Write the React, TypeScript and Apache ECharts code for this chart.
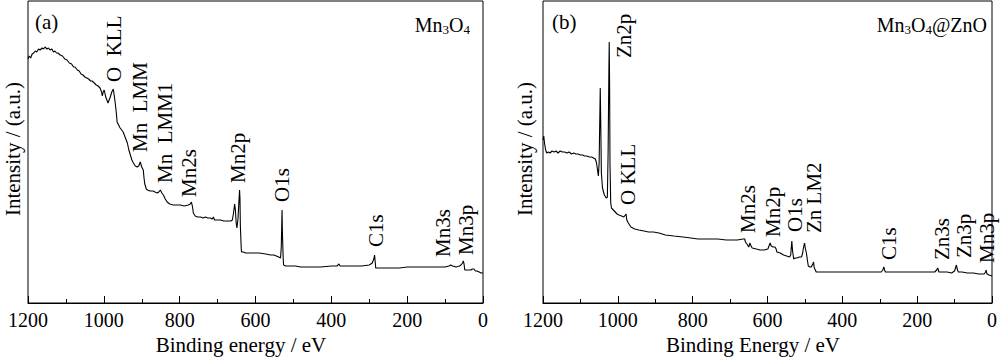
import React, { useEffect, useRef } from "react";
import * as echarts from "echarts";

// Panel (a): Mn3O4 survey spectrum (binding energy in eV, intensity in a.u.)
const energyA = [
  1200, 1197, 1193, 1189, 1185, 1181, 1177, 1172, 1168, 1163, 1159, 1155, 1150, 1146, 1142, 1137,
  1133, 1129, 1125, 1121, 1115, 1109, 1103, 1097, 1091, 1085, 1080, 1076, 1070, 1065, 1060, 1055,
  1050, 1045, 1040, 1035, 1031, 1025, 1020, 1015, 1010, 1006, 1004, 1001, 999, 995, 989, 986,
  983, 979, 975, 972, 970, 967, 965, 961, 957, 953, 949, 944, 938, 934, 930, 926,
  922, 917, 912, 908, 904, 900, 896, 894, 892, 888, 885, 878, 870, 865, 859, 855,
  851, 847, 843, 838, 833, 826, 817, 808, 798, 788, 777, 772, 769, 766, 764, 759,
  753, 745, 738, 732, 726, 719, 714, 711, 708, 700, 692, 684, 676, 671, 665, 661,
  658, 655, 653, 651, 649, 646, 644, 642, 641, 640, 638, 637, 632, 626, 615, 605,
  590, 573, 560, 552, 545, 539, 534, 532, 530, 529, 527, 526, 520, 507, 495, 481,
  460, 440, 428, 400, 385, 380, 377, 370, 362, 340, 320, 300, 292, 288, 286, 284,
  283, 275, 260, 243, 220, 200, 180, 164, 140, 120, 100, 90, 85, 80, 71, 62,
  58, 54, 52, 50, 48, 45, 40, 32, 28, 24, 20, 16, 10, 5, 0,
];
const intensityA = [
  244, 247, 245, 249, 250, 252, 251, 254, 253, 255, 254, 256, 254, 255, 253, 254,
  251, 252, 250, 250, 248, 247, 244, 243, 240, 239, 236, 236, 233, 232, 229, 228,
  226, 225, 224, 222, 222, 220, 218, 217, 215, 211, 207, 212, 213, 206, 200, 203,
  206, 211, 214, 206, 200, 190, 181, 178, 175, 173, 171, 166, 160, 153, 148, 143,
  140, 137, 136, 137, 141, 136, 133, 125, 119, 114, 113, 112, 112, 111, 110, 111,
  113, 110, 108, 104, 101, 99, 98, 98, 98, 97, 98, 99, 101, 96, 90, 87,
  86, 86, 85, 86, 85, 85, 84, 86, 83, 83, 83, 82, 82, 82, 82, 83,
  90, 99, 93, 80, 75, 85, 100, 113, 105, 78, 58, 51, 51, 50, 50, 50,
  50, 49, 48, 48, 47, 46, 45, 56, 93, 70, 45, 38, 37, 37, 37, 36,
  36, 36, 36, 37, 37, 39, 37, 37, 37, 37, 37, 38, 40, 44, 48, 40,
  35, 35, 35, 35, 35, 36, 36, 36, 36, 36, 36, 37, 38, 37, 36, 37,
  38, 40, 42, 39, 33, 33, 33, 33, 34, 34, 32, 32, 31, 30, 30,
];

// Panel (b): Mn3O4@ZnO survey spectrum
const energyB = [
  1200, 1198, 1196, 1193, 1190, 1186, 1181, 1176, 1170, 1165, 1160, 1154, 1148, 1142, 1136, 1130,
  1124, 1118, 1112, 1106, 1100, 1094, 1089, 1083, 1076, 1070, 1065, 1060, 1057, 1055, 1052, 1050,
  1048, 1047, 1046, 1044, 1041, 1036, 1031, 1028, 1026, 1024, 1023, 1022, 1021, 1019, 1017, 1012,
  1007, 1002, 997, 990, 984, 980, 978, 976, 972, 965, 955, 944, 930, 918, 905, 890,
  873, 850, 826, 805, 786, 760, 733, 710, 681, 665, 661, 659, 655, 650, 647, 645,
  641, 630, 620, 609, 599, 595, 593, 590, 585, 580, 577, 575, 566, 557, 549, 541,
  538, 535, 533, 530, 526, 522, 515, 509, 506, 504, 501, 499, 496, 493, 491, 487,
  483, 479, 477, 475, 472, 470, 450, 435, 400, 364, 330, 296, 292, 289, 287, 285,
  260, 230, 206, 180, 153, 148, 145, 142, 140, 120, 108, 100, 96, 95, 93, 90,
  80, 66, 50, 35, 21, 17, 16, 14, 13, 8, 0,
];
const intensityB = [
  163, 167, 160, 153, 150, 151, 150, 152, 151, 152, 150, 152, 151, 151, 150, 151,
  149, 150, 149, 149, 148, 148, 147, 147, 146, 146, 145, 144, 140, 135, 127, 140,
  190, 215, 190, 130, 115, 108, 105, 106, 150, 230, 261, 220, 140, 100, 95, 93,
  91, 89, 88, 87, 86, 88, 89, 83, 80, 76, 74, 73, 72, 71, 71, 70,
  68, 67, 66, 65, 64, 64, 64, 63, 63, 64, 64, 61, 59, 56, 60, 58,
  55, 54, 53, 53, 54, 58, 60, 57, 56, 56, 54, 51, 50, 48, 47, 46,
  48, 62, 52, 44, 45, 45, 46, 46, 50, 55, 60, 55, 50, 42, 37, 36,
  36, 39, 41, 35, 33, 31, 31, 31, 31, 31, 31, 31, 33, 36, 33, 31,
  31, 31, 31, 31, 31, 33, 35, 31, 31, 31, 30, 32, 37, 38, 34, 31,
  31, 30, 30, 29, 29, 31, 33, 30, 29, 28, 27,
];

const xTickValues = [1200, 1000, 800, 600, 400, 200, 0];

const peakLabelsA = ["O  KLL", "Mn  LMM", "Mn  LMM1", "Mn2s", "Mn2p", "O1s", "C1s", "Mn3s", "Mn3p"];
const peakLabelsB = ["Zn2p", "O KLL", "Mn2s", "Mn2p", "O1s", "Zn LM2", "C1s", "Zn3s", "Zn3p", "Mn3p"];

const FONT = "'Liberation Serif', 'Times New Roman', serif";

export default function App() {
  const ref = useRef<HTMLDivElement>(null);

  useEffect(() => {
    document.body.style.margin = "0";
    if (!ref.current) return;
    const chart = echarts.init(ref.current, undefined, { renderer: "svg" });

    const seriesA = energyA.map((e, i) => [e, intensityA[i]]);
    const seriesB = energyB.map((e, i) => [e, intensityB[i]]);

    const makeX = (gridIndex: number) => ({
      gridIndex,
      type: "value" as const,
      min: 0,
      max: 1200,
      interval: 200,
      inverse: true,
      axisLine: { show: true, lineStyle: { color: "#000", width: 1 } },
      axisTick: { show: true, inside: true, length: 7, lineStyle: { color: "#000", width: 1 } },
      minorTick: { show: true, splitNumber: 2, length: 4, lineStyle: { color: "#000", width: 1 } },
      axisLabel: {
        color: "#000",
        fontFamily: FONT,
        fontSize: 20,
        margin: 7,
        showMinLabel: true,
        showMaxLabel: true,
        formatter: (v: number) => (xTickValues.includes(v) ? String(v) : ""),
      },
      splitLine: { show: false },
    });
    const makeY = (gridIndex: number) => ({
      gridIndex,
      type: "value" as const,
      min: 0,
      max: 302,
      show: false,
    });

    const rotLabel = (text: string, x: number, bottom: number) => ({
      type: "text",
      x,
      y: bottom,
      rotation: Math.PI / 2,
      style: {
        text,
        fill: "#000",
        fontFamily: FONT,
        fontSize: 21,
        align: "left",
        verticalAlign: "middle",
      },
    });

    const labelPosA: [number, number][] = [
      [114, 82], [140, 152], [165, 183], [189, 197], [238, 183], [282, 202], [376, 247], [443, 257], [466, 255],
    ];
    const labelPosB: [number, number][] = [
      [624, 58], [628, 205], [748, 233], [773, 237], [795, 232], [814, 233], [889, 260], [942, 260], [964, 258], [987, 263],
    ];

    const subRich = {
      s: { fontSize: 13, fontFamily: FONT, fill: "#000", lineHeight: 10, verticalAlign: "bottom" },
    };

    const graphics: any[] = [
      ...peakLabelsA.map((t, i) => rotLabel(t, labelPosA[i][0], labelPosA[i][1])),
      ...peakLabelsB.map((t, i) => rotLabel(t, labelPosB[i][0], labelPosB[i][1])),
      {
        type: "text", x: 35, y: 22,
        style: { text: "(a)", fill: "#000", fontFamily: FONT, fontSize: 21, align: "left", verticalAlign: "middle" },
      },
      {
        type: "text", x: 552, y: 22,
        style: { text: "(b)", fill: "#000", fontFamily: FONT, fontSize: 21, align: "left", verticalAlign: "middle" },
      },
      {
        type: "text", x: 470, y: 25,
        style: {
          text: "Mn{s|3}O{s|4}", fill: "#000", fontFamily: FONT, fontSize: 20, lineHeight: 22,
          align: "right", verticalAlign: "middle", rich: subRich,
        },
      },
      {
        type: "text", x: 987, y: 25,
        style: {
          text: "Mn{s|3}O{s|4}@ZnO", fill: "#000", fontFamily: FONT, fontSize: 20, lineHeight: 22,
          align: "right", verticalAlign: "middle", rich: subRich,
        },
      },
      {
        type: "text", x: 241, y: 345,
        style: { text: "Binding energy / eV", fill: "#000", fontFamily: FONT, fontSize: 21, align: "center", verticalAlign: "middle" },
      },
      {
        type: "text", x: 753, y: 345,
        style: { text: "Binding Energy / eV", fill: "#000", fontFamily: FONT, fontSize: 21, align: "center", verticalAlign: "middle" },
      },
      {
        type: "text", x: 13, y: 149, rotation: Math.PI / 2,
        style: { text: "Intensity / (a.u.)", fill: "#000", fontFamily: FONT, fontSize: 21, align: "center", verticalAlign: "middle" },
      },
      {
        type: "text", x: 525, y: 149, rotation: Math.PI / 2,
        style: { text: "Intensity / (a.u.)", fill: "#000", fontFamily: FONT, fontSize: 21, align: "center", verticalAlign: "middle" },
      },
    ];

    chart.setOption({
      animation: false,
      backgroundColor: "#fff",
      grid: [
        { left: 28, top: 1, width: 455, height: 302, show: true, borderColor: "#000", borderWidth: 1 },
        { left: 543, top: 1, width: 455, height: 302, show: true, borderColor: "#000", borderWidth: 1 },
      ],
      xAxis: [makeX(0), makeX(1)],
      yAxis: [makeY(0), makeY(1)],
      series: [
        {
          type: "line", xAxisIndex: 0, yAxisIndex: 0, data: seriesA, showSymbol: false, silent: true,
          lineStyle: { color: "#000", width: 1.1 },
        },
        {
          type: "line", xAxisIndex: 1, yAxisIndex: 1, data: seriesB, showSymbol: false, silent: true,
          lineStyle: { color: "#000", width: 1.1 },
        },
      ],
      graphic: graphics,
    });

    return () => chart.dispose();
  }, []);

  return <div ref={ref} style={{ width: 1000, height: 357 }} />;
}
